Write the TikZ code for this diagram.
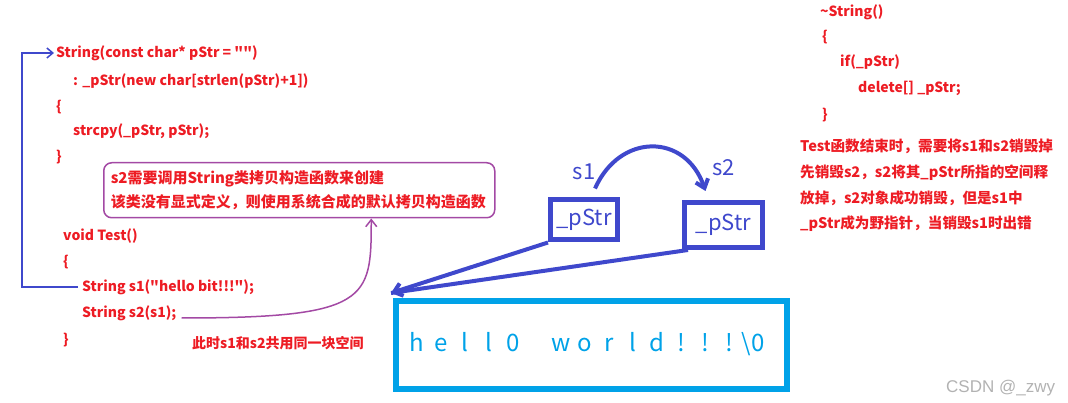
\documentclass[tikz,border=0pt]{standalone}
\usepackage{fontspec}
\setmainfont{Noto Sans CJK SC}[Ligatures=TeXOff]
\newfontfamily\wmfont{Liberation Sans}
\usetikzlibrary{arrows.meta, positioning}
\definecolor{codered}{RGB}{237,28,36}
\definecolor{penblue}{RGB}{63,72,204}
\definecolor{memcyan}{RGB}{0,162,232}
\definecolor{notepurple}{RGB}{163,73,164}
\newcommand{\cell}[1]{\makebox[24pt]{#1}}

\begin{document}
\begin{tikzpicture}[
    x=1pt, y=-1pt,
    code/.style={anchor=west, inner sep=0pt, text=codered, font=\fontsize{14}{16}\selectfont\bfseries},
    note/.style={draw=notepurple, line width=1.5pt, rounded corners=8pt, text=codered, align=left, font=\fontsize{15}{24}\selectfont\bfseries},
    ptrbox/.style={draw=penblue, line width=5pt, text=penblue, inner sep=0pt, font=\fontsize{22}{24}\selectfont},
    varname/.style={text=penblue, inner sep=0pt, font=\fontsize{22}{24}\selectfont},
    memory/.style={draw=memcyan, line width=6pt, text=memcyan, inner sep=0pt, font=\fontsize{24}{26}\selectfont},
    arrow/.style={-{Straight Barb[length=8pt,width=13pt]}, penblue, line width=4pt},
    callline/.style={-{Straight Barb[length=6pt,width=10pt]}, penblue, line width=1.5pt},
    copyline/.style={-{Straight Barb[length=7pt,width=11pt]}, notepurple, line width=1.5pt}
]
\useasboundingbox (0,0) rectangle (1068,403);

% Constructor
\node (ctor) [code] at (56,53) {String(const char* pStr = "")};
\node (init) [code] at (73,81) {: \_pStr(new char[strlen(pStr)+1])};
\node (ctoropen) [code] at (56,107) {\{};
\node (copy) [code] at (73,131) {strcpy(\_pStr, pStr);};
\node (ctorclose) [code] at (56,157) {\}};

% Note on copy constructor
\node (note) [note, anchor=north west, text width=377pt, inner xsep=7pt, minimum height=55pt] at (103,162)
    {s2需要调用String类拷贝构造函数来创建\\该类没有显式定义，则使用系统合成的默认拷贝构造函数};

% Test function
\node (test) [code] at (63,236) {void Test()};
\node (testopen) [code] at (63,262) {\{};
\node (s1code) [code] at (82,287) {String s1("hello bit!!!");};
\node (s2code) [code] at (82,313) {String s2(s1);};
\node (testclose) [code] at (63,340) {\}};
\node (shared) [code] at (192,343) {此时s1和s2共用同一块空间};

% Destructor
\node (dtor) [code] at (820,12) {\textasciitilde String()};
\node (dtoropen) [code] at (822,37) {\{};
\node (check) [code] at (840,62) {if(\_pStr)};
\node (free) [code] at (858,88) {delete[] \_pStr;};
\node (dtorclose) [code] at (822,115) {\}};
\node (explain) [code, align=left, font=\fontsize{14.6}{25.7}\selectfont\bfseries] at (800,185.5)
    {Test函数结束时，需要将s1和s2销毁掉\\先销毁s2，s2将其\_pStr所指的空间释\\放掉，s2对象成功销毁，但是s1中\\\_pStr成为野指针，当销毁s1时出错};

% Objects and heap memory
\node (s1box) [ptrbox, minimum width=67pt, minimum height=40pt] at (584,220) {\_pStr};
\node (s2box) [ptrbox, minimum width=78pt, minimum height=45pt] at (723.5,225) {\_pStr};
\node (s1lab) [varname, above=18pt of s1box] {s1};
\node (s2lab) [varname, above=24pt of s2box] {s2};
\node (mem) [memory, minimum width=391pt, minimum height=88pt] at (591.5,345) {};
\node (chars) [text=memcyan, anchor=west, inner sep=0pt, font=\fontsize{24}{26}\selectfont] at (405,344)
    {\cell{h}\cell{e}\cell{l}\cell{l}\cell{0}\cell{}\cell{w}\cell{o}\cell{r}\cell{l}\cell{d}\cell{!}\cell{!}\cell{!}\cell{\textbackslash 0}};
\coordinate (tip) at ([shift={(-2,-5)}]mem.north west);

% Arrows
\draw [callline] ([xshift=-4pt]s1code.west) -- ++(-56,0) |- ([xshift=-2pt]ctor.west);
\draw [copyline] ([shift={(5,5)}]s2code.east) .. controls +(188,0) and +(0,81) .. ([xshift=72pt]note.south);
\draw [arrow] ([shift={(11,-9)}]s1box.north) .. controls +(25,-56) and +(-20,-58) .. ([shift={(-18,-9)}]s2box.north);
\draw [arrow] (s1box.south west) -- (tip);
\draw [penblue, line width=4pt] ([xshift=6pt]s2box.south west) -- (tip);

% Watermark
\node (mark) [text=black!30, anchor=west, inner sep=0pt, font=\wmfont\fontsize{17}{18}\selectfont] at (946,388) {CSDN @\_zwy};

\end{tikzpicture}
\end{document}
